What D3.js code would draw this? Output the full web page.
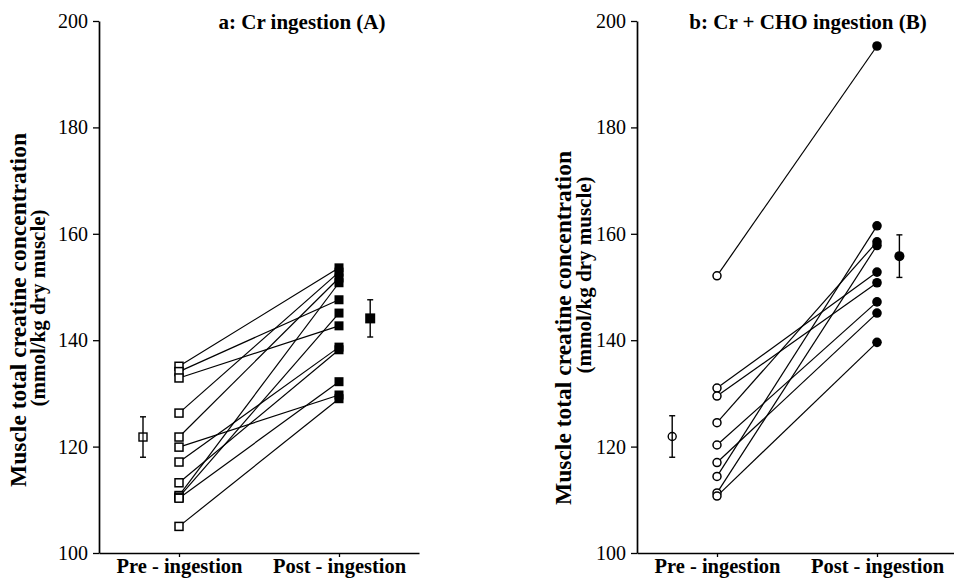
<!DOCTYPE html>
<html>
<head>
<meta charset="utf-8">
<script src="https://d3js.org/d3.v7.min.js"></script>
<style>
  body { margin: 0; background: #fff; }
  text { font-family: "Liberation Serif", "Times New Roman", serif; fill: #000; }
</style>
</head>
<body>
<script>
  const yTicks = [100, 120, 140, 160, 180, 200];
  const phaseLabels = ["Pre - ingestion", "Post - ingestion"];

  // a: Cr ingestion (A) - one entry per subject, pre and post in same order
  const preA  = [135.1, 134.1, 132.9, 126.3, 121.8, 119.9, 117.1, 113.2, 110.8, 110.5, 110.3, 105.0];
  const postA = [153.6, 147.6, 142.7, 152.8, 151.7, 129.7, 138.7, 138.2, 150.8, 145.1, 132.2, 129.0];
  const meanA = [121.8, 144.1];
  const semA  = [3.8, 3.5];

  // b: Cr + CHO ingestion (B)
  const preB  = [152.1, 131.0, 129.5, 124.5, 120.3, 117.0, 114.4, 111.3, 110.7];
  const postB = [195.3, 152.8, 150.8, 158.5, 147.2, 145.1, 161.5, 157.8, 139.6];
  const meanB = [121.9, 155.8];
  const semB  = [3.9, 4.0];

  const w = 954;
  const h = 578;
  const plotTop = 21, plotBottom = 553;

  const svg = d3.select("body")
                .append("svg")
                .attr("width", w)
                .attr("height", h);

  const yScale = d3.scaleLinear()
                   .domain([100, 200])
                   .range([plotBottom, plotTop]);

  function drawPanel(p) {
    // x: 0..4, pre at 1, post at 3
    const xScale = d3.scaleLinear()
                     .domain([0, 4])
                     .range([p.left, p.left + 320]);

    const g = svg.append("g");

    const yAxis = d3.axisLeft(yScale)
                    .tickValues(yTicks)
                    .tickSize(6)
                    .tickSizeOuter(0)
                    .tickPadding(5);

    const xAxis = d3.axisBottom(xScale)
                    .tickValues([1, 3])
                    .tickFormat((d, i) => phaseLabels[i])
                    .tickSize(4)
                    .tickSizeOuter(0)
                    .tickPadding(1);

    const ya = g.append("g")
                .attr("transform", "translate(" + p.left + ",0)")
                .call(yAxis);
    ya.selectAll("text").style("font-size", "20px").attr("font-family", null);

    const xa = g.append("g")
                .attr("transform", "translate(0," + plotBottom + ")")
                .call(xAxis);
    xa.selectAll("text").style("font-size", "20.5px").style("font-weight", "bold").attr("font-family", null);

    g.selectAll(".domain").attr("stroke-width", 1.7);
    g.selectAll(".tick line").attr("stroke-width", 1.3);

    // subject lines
    g.selectAll(".subj")
     .data(p.pre)
     .enter()
     .append("line")
     .attr("x1", xScale(1))
     .attr("y1", (d) => yScale(d))
     .attr("x2", xScale(3))
     .attr("y2", (d, i) => yScale(p.post[i]))
     .attr("stroke", "#000")
     .attr("stroke-width", 1.2);

    // error bars for means
    const mx = p.meanX.map((d) => xScale(d));
    p.mean.forEach((m, i) => {
      const e = p.sem[i];
      g.append("line").attr("x1", mx[i]).attr("x2", mx[i])
       .attr("y1", yScale(m - e)).attr("y2", yScale(m + e))
       .attr("stroke", "#000").attr("stroke-width", 1.4);
      [m - e, m + e].forEach((v) => {
        g.append("line").attr("x1", mx[i] - 3).attr("x2", mx[i] + 3)
         .attr("y1", yScale(v)).attr("y2", yScale(v))
         .attr("stroke", "#000").attr("stroke-width", 1.4);
      });
    });

    if (p.shape === "square") {
      g.selectAll(".pre").data(p.pre).enter().append("rect")
       .attr("x", xScale(1) - 4).attr("y", (d) => yScale(d) - 4)
       .attr("width", 8).attr("height", 8)
       .attr("fill", "#fff").attr("stroke", "#000").attr("stroke-width", 1.5);
      g.selectAll(".post").data(p.post).enter().append("rect")
       .attr("x", xScale(3) - 4.5).attr("y", (d) => yScale(d) - 4.5)
       .attr("width", 9).attr("height", 9)
       .attr("fill", "#000");
      g.append("rect")
       .attr("x", mx[0] - 4).attr("y", yScale(p.mean[0]) - 4)
       .attr("width", 8).attr("height", 8)
       .attr("fill", "#fff").attr("stroke", "#000").attr("stroke-width", 1.4);
      g.append("line").attr("x1", mx[0]).attr("x2", mx[0])
       .attr("y1", yScale(p.mean[0]) - 4).attr("y2", yScale(p.mean[0]) + 4)
       .attr("stroke", "#000").attr("stroke-width", 1.2);
      g.append("rect")
       .attr("x", mx[1] - 5).attr("y", yScale(p.mean[1]) - 5)
       .attr("width", 10).attr("height", 10)
       .attr("fill", "#000");
    } else {
      g.selectAll(".pre").data(p.pre).enter().append("circle")
       .attr("cx", xScale(1)).attr("cy", (d) => yScale(d)).attr("r", 4)
       .attr("fill", "#fff").attr("stroke", "#000").attr("stroke-width", 1.5);
      g.selectAll(".post").data(p.post).enter().append("circle")
       .attr("cx", xScale(3)).attr("cy", (d) => yScale(d)).attr("r", 4.8)
       .attr("fill", "#000");
      g.append("circle")
       .attr("cx", mx[0]).attr("cy", yScale(p.mean[0])).attr("r", 4)
       .attr("fill", "none").attr("stroke", "#000").attr("stroke-width", 1.4);
      g.append("circle")
       .attr("cx", mx[1]).attr("cy", yScale(p.mean[1])).attr("r", 5)
       .attr("fill", "#000");
    }

    g.append("text")
     .attr("x", p.titleX)
     .attr("y", 29)
     .attr("text-anchor", "middle")
     .style("font-size", "21px")
     .style("font-weight", "bold")
     .text(p.title);

    g.append("text")
     .attr("transform", "translate(" + p.yt1[0] + "," + p.yt1[1] + ") rotate(-90)")
     .attr("text-anchor", "middle")
     .style("font-size", "23.5px")
     .style("font-weight", "bold")
     .text("Muscle total creatine concentration");

    g.append("text")
     .attr("transform", "translate(" + p.yt2[0] + "," + p.yt2[1] + ") rotate(-90)")
     .attr("text-anchor", "middle")
     .style("font-size", "21px")
     .style("font-weight", "bold")
     .text("(mmol/kg dry muscle)");
  }

  drawPanel({
    left: 99, pre: preA, post: postA, mean: meanA, sem: semA,
    meanX: [0.55, 3.39], shape: "square",
    title: "a: Cr ingestion (A)", titleX: 302,
    yt1: [26, 310], yt2: [45, 308]
  });

  drawPanel({
    left: 637, pre: preB, post: postB, mean: meanB, sem: semB,
    meanX: [0.44, 3.28], shape: "circle",
    title: "b: Cr + CHO ingestion (B)", titleX: 808,
    yt1: [571, 328], yt2: [591, 275]
  });
</script>
</body>
</html>
